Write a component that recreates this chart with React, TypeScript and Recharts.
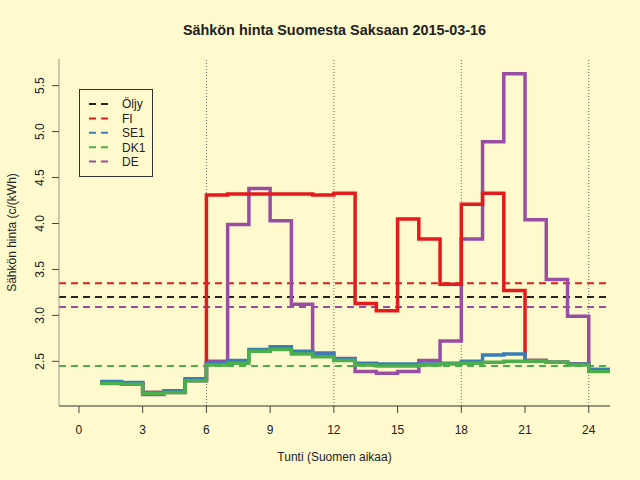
import React from "react";
import {
  LineChart,
  Line,
  XAxis,
  YAxis,
  ReferenceLine,
  Legend,
  Label,
} from "recharts";

// ---- data ----
const hours = [1, 2, 3, 4, 5, 6, 7, 8, 9, 10, 11, 12, 13, 14, 15, 16, 17, 18, 19, 20, 21, 22, 23, 24];
const fi = [2.27, 2.26, 2.16, 2.17, 2.30, 4.31, 4.32, 4.32, 4.32, 4.32, 4.31, 4.33, 3.13, 3.05, 4.05, 3.83, 3.34, 4.21, 4.33, 3.27, 2.51, 2.49, 2.47, 2.40];
const se1 = [2.28, 2.27, 2.16, 2.18, 2.31, 2.48, 2.51, 2.63, 2.66, 2.61, 2.58, 2.52, 2.48, 2.47, 2.47, 2.47, 2.48, 2.50, 2.57, 2.58, 2.51, 2.49, 2.47, 2.41];
const dk1 = [2.26, 2.25, 2.15, 2.16, 2.29, 2.46, 2.48, 2.61, 2.63, 2.58, 2.55, 2.51, 2.46, 2.45, 2.45, 2.46, 2.47, 2.48, 2.49, 2.50, 2.50, 2.49, 2.46, 2.39];
const de = [2.27, 2.26, 2.14, 2.16, 2.29, 2.50, 3.99, 4.38, 4.03, 3.12, 2.59, 2.53, 2.39, 2.37, 2.39, 2.51, 2.72, 3.83, 4.89, 5.63, 4.04, 3.39, 2.99, 2.41];

const legendNames = ["Öljy", "FI", "SE1", "DK1", "DE"];
const legendColors = ["#222222", "#E41A1C", "#377EB8", "#4DAF4A", "#984EA3"];
const averages = [3.20, 3.35, 2.45, 2.45, 3.09]; // Öljy, FI, SE1, DK1, DE

const xTicks = [0, 3, 6, 9, 12, 15, 18, 21, 24];
const yTicks = [2.5, 3.0, 3.5, 4.0, 4.5, 5.0, 5.5];
const dottedHours = [6, 12, 18, 24];

const title = "Sähkön hinta Suomesta Saksaan 2015-03-16";
const xTitle = "Tunti (Suomen aikaa)";
const yTitle = "Sähkön hinta (c/(kWh)";

// step table: last hour extended to hour 25
const table = [...hours, 25].map((h, i) => {
  const j = Math.min(i, hours.length - 1);
  return { h, fi: fi[j], se1: se1[j], dk1: dk1[j], de: de[j] };
});

const FONT = "'Liberation Sans', Arial, Helvetica, sans-serif";
const BG = "#FFFACD";
const TXT = "#222222";

const YTick = (props: any) => {
  const { y, payload } = props;
  const x = 44.5;
  return (
    <text
      x={x}
      y={y}
      transform={`rotate(-90 ${x} ${y})`}
      textAnchor="middle"
      fontSize={12}
      fontFamily={FONT}
      fill={TXT}
    >
      {Number(payload.value).toFixed(1)}
    </text>
  );
};

const XTick = (props: any) => {
  const { x, payload } = props;
  return (
    <text x={x} y={433.5} textAnchor="middle" fontSize={12} fontFamily={FONT} fill={TXT}>
      {payload.value}
    </text>
  );
};

const LegendBox = () => (
  <svg width={75} height={90} style={{ display: "block" }}>
    <rect x={0.5} y={0.5} width={73} height={87} fill={BG} stroke="#333" strokeWidth={1} />
    {legendNames.map((n, i) => {
      const cy = 15 + i * 14.4;
      return (
        <g key={n}>
          <line
            x1={10}
            x2={30}
            y1={cy}
            y2={cy}
            stroke={legendColors[i]}
            strokeWidth={2}
            strokeDasharray="7 5"
          />
          <text x={43} y={cy + 4.3} fontSize={12} fontFamily={FONT} fill={TXT}>
            {n}
          </text>
        </g>
      );
    })}
  </svg>
);

export default function App() {
  return (
    <div
      style={{
        position: "absolute",
        left: 0,
        top: 0,
        width: 640,
        height: 480,
        background: BG,
      }}
    >
      <div
        style={{
          position: "absolute",
          left: 0,
          top: 0,
          width: 640,
          textAlign: "center",
          paddingLeft: 29,
          boxSizing: "border-box",
          fontFamily: FONT,
          fontWeight: "bold",
          fontSize: 14.4,
          lineHeight: "14.4px",
          top: 23,
          color: TXT,
        }}
      >
        {title}
      </div>
      <LineChart
        width={640}
        height={480}
        data={table}
        margin={{ top: 59, right: 30, bottom: 44, left: 0 }}
      >
        <XAxis
          dataKey="h"
          type="number"
          domain={[-0.94, 25]}
          allowDataOverflow
          ticks={xTicks}
          interval={0}
          height={30}
          tickSize={7}
          tick={<XTick />}
          tickLine={{ stroke: "#444" }}
          axisLine={{ stroke: "#333" }}
        >
          <Label
            value={xTitle}
            position="insideBottom"
            content={() => (
              <text x={334.5} y={461} textAnchor="middle" fontSize={12} fontFamily={FONT} fill={TXT}>
                {xTitle}
              </text>
            )}
          />
        </XAxis>
        <XAxis
          xAxisId="top"
          dataKey="h"
          type="number"
          orientation="top"
          domain={[-0.94, 25]}
          allowDataOverflow
          height={0}
          tick={false}
          tickLine={false}
          axisLine={{ stroke: "#a9a69a" }}
        />
        <YAxis
          type="number"
          domain={[2.014, 5.79]}
          allowDataOverflow
          ticks={yTicks}
          interval={0}
          width={59}
          tickSize={7}
          tick={<YTick />}
          tickLine={{ stroke: "#444" }}
          axisLine={{ stroke: "#9c998e" }}
        >
          <Label
            value={yTitle}
            content={() => (
              <text
                x={16}
                y={232.5}
                transform="rotate(-90 16 232.5)"
                textAnchor="middle"
                fontSize={12}
                fontFamily={FONT}
                fill={TXT}
              >
                {yTitle}
              </text>
            )}
          />
        </YAxis>
        <YAxis
          yAxisId="right"
          orientation="right"
          type="number"
          domain={[2.014, 5.79]}
          width={0}
          tick={false}
          tickLine={false}
          axisLine={{ stroke: "#555" }}
        />
        {dottedHours.map((h) => (
          <ReferenceLine
            key={"v" + h}
            x={h}
            stroke="#666"
            strokeWidth={1}
            strokeDasharray="1 2"
          />
        ))}
        {averages.map((v, i) => (
          <ReferenceLine
            key={"a" + i}
            y={v}
            stroke={legendColors[i]}
            strokeWidth={2}
            strokeDasharray="7 5"
          />
        ))}
        <Line
          type="stepAfter"
          dataKey="de"
          stroke="#984EA3"
          strokeWidth={3.5}
          dot={false}
          isAnimationActive={false}
          strokeLinejoin="miter"
          strokeLinecap="butt"
        />
        <Line
          type="stepAfter"
          dataKey="fi"
          stroke="#E41A1C"
          strokeWidth={3.5}
          dot={false}
          isAnimationActive={false}
          strokeLinejoin="miter"
          strokeLinecap="butt"
        />
        <Line
          type="stepAfter"
          dataKey="se1"
          stroke="#377EB8"
          strokeWidth={3.5}
          dot={false}
          isAnimationActive={false}
          strokeLinejoin="miter"
          strokeLinecap="butt"
        />
        <Line
          type="stepAfter"
          dataKey="dk1"
          stroke="#4DAF4A"
          strokeWidth={3.5}
          dot={false}
          isAnimationActive={false}
          strokeLinejoin="miter"
          strokeLinecap="butt"
        />
        <Legend
          layout="horizontal"
          verticalAlign="middle"
          align="center"
          content={() => <LegendBox />}
          wrapperStyle={{ left: 79, top: 89, width: 75, height: 90, right: "auto", bottom: "auto" }}
        />
      </LineChart>
    </div>
  );
}
